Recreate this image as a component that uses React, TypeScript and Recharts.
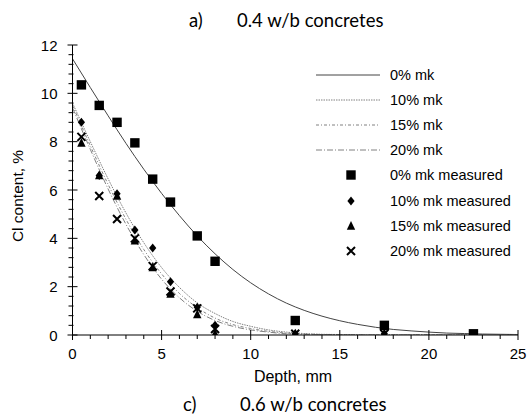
import React from 'react';
import { ComposedChart, Line, Scatter, XAxis, YAxis } from 'recharts';

// fitted profiles (depth mm -> Cl %)
const curveDepth = [0, 1, 2, 3, 4, 5, 6, 7, 8, 9, 10, 11, 12, 13, 14, 15, 16, 17, 18, 19, 20, 21, 22, 23, 24, 25];
const fit0 = [11.43, 10.24, 9.07, 7.93, 6.86, 5.86, 4.94, 4.1, 3.36, 2.71, 2.16, 1.7, 1.32, 1.02, 0.78, 0.59, 0.44, 0.32, 0.23, 0.17, 0.12, 0.08, 0.06, 0.04, 0.03, 0.02];
const fit10 = [9.6, 8.0, 6.46, 5.05, 3.82, 2.79, 1.97, 1.33, 0.89, 0.56, 0.36, 0.21, 0.12, 0.06, 0.03, 0.02, 0.01, 0, 0, 0, 0, 0, 0, 0, 0, 0];
const fit15 = [9.5, 7.83, 6.23, 4.79, 3.54, 2.53, 1.72, 1.13, 0.7, 0.43, 0.27, 0.15, 0.08, 0.04, 0.02, 0.01, 0, 0, 0, 0, 0, 0, 0, 0, 0, 0];
const fit20 = [9.4, 7.68, 6.04, 4.58, 3.33, 2.31, 1.54, 0.98, 0.6, 0.36, 0.21, 0.12, 0.05, 0.03, 0.01, 0.01, 0, 0, 0, 0, 0, 0, 0, 0, 0, 0];

// measured points
const measDepth = [0.5, 1.5, 2.5, 3.5, 4.5, 5.5, 7, 8, 12.5, 17.5, 22.5];
const meas0 = [10.35, 9.5, 8.8, 7.95, 6.45, 5.5, 4.1, 3.05, 0.6, 0.4, 0.05];
const meas10 = [8.8, 6.6, 5.85, 4.35, 3.6, 2.2, 1.15, 0.4, 0.05, 0.05, 0.02];
const meas15 = [7.95, 6.6, 5.75, 3.9, 2.8, 1.7, 0.85, 0.05, 0.05, 0.05, 0];
const meas20 = [8.2, 5.75, 4.8, 4.0, 2.85, 1.8, 1.1, 0.25, 0.05, 0.05, 0];

const xMajor = [0, 5, 10, 15, 20, 25];
const yMajor = [0, 2, 4, 6, 8, 10, 12];
const xTicks = Array.from({ length: 26 }, (_, i) => i);
const yTicks = Array.from({ length: 31 }, (_, i) => Math.round(i * 4) / 10);

const toPts = (xs: number[], ys: number[]) => xs.map((x, i) => ({ x, y: ys[i] }));

const lines = [
  { name: '0% mk', data: toPts(curveDepth, fit0), stroke: '#444', dash: undefined as string | undefined },
  { name: '10% mk', data: toPts(curveDepth, fit10), stroke: '#808080', dash: '1.5 1' },
  { name: '15% mk', data: toPts(curveDepth, fit15), stroke: '#808080', dash: '3 2 1 2' },
  { name: '20% mk', data: toPts(curveDepth, fit20), stroke: '#808080', dash: '6 2 1 2' },
];

const Square = ({ cx, cy }: any) => <rect x={cx - 4.7} y={cy - 4.7} width={9.4} height={9.4} fill="#000" />;
const Diamond = ({ cx, cy }: any) => <polygon points={`${cx},${cy - 4.5} ${cx + 3.6},${cy} ${cx},${cy + 4.5} ${cx - 3.6},${cy}`} fill="#000" />;
const Tri = ({ cx, cy }: any) => <polygon points={`${cx},${cy - 5} ${cx + 4.2},${cy + 3.8} ${cx - 4.2},${cy + 3.8}`} fill="#000" />;
const Cross = ({ cx, cy }: any) => (
  <path d={`M${cx - 4},${cy - 4}L${cx + 4},${cy + 4}M${cx + 4},${cy - 4}L${cx - 4},${cy + 4}`} stroke="#000" strokeWidth={2} />
);

const points = [
  { name: '0% mk measured', data: toPts(measDepth, meas0), shape: Square },
  { name: '10% mk measured', data: toPts(measDepth, meas10), shape: Diamond },
  { name: '15% mk measured', data: toPts(measDepth, meas15), shape: Tri },
  { name: '20% mk measured', data: toPts(measDepth, meas20), shape: Cross },
];

const font = 'Arial, "Liberation Sans", sans-serif';

const XTick = ({ x, y, payload }: any) => {
  const major = xMajor.includes(payload.value);
  const ay = y - 6;
  return (
    <g>
      <line x1={x} x2={x} y1={major ? ay - 5 : ay} y2={major ? ay + 5 : ay + 4} stroke="#000" />
      {major && (
        <text x={x} y={ay + 24} textAnchor="middle" fontSize={15} fontFamily={font} fill="#000">
          {payload.value}
        </text>
      )}
    </g>
  );
};

const YTick = ({ x, y, payload }: any) => {
  const major = yMajor.includes(payload.value);
  const ax = x + 6;
  return (
    <g>
      <line x1={major ? ax - 5 : ax - 4} x2={major ? ax + 5 : ax + 1} y1={y} y2={y} stroke="#000" />
      {major && (
        <text x={ax - 15} y={y + 5.5} textAnchor="end" fontSize={15} fontFamily={font} fill="#000">
          {payload.value}
        </text>
      )}
    </g>
  );
};

const LegendBox = () => (
  <div style={{ position: 'absolute', left: 316, top: 62, fontFamily: font, fontSize: 14.5, color: '#000' }}>
    {lines.map((l) => (
      <div key={l.name} style={{ display: 'flex', alignItems: 'center', height: 25.2 }}>
        <svg width={74} height={10}>
          <line x1={0} x2={64} y1={5} y2={5} stroke={l.stroke} strokeDasharray={l.dash} />
        </svg>
        <span>{l.name}</span>
      </div>
    ))}
    {points.map((p) => {
      const S = p.shape;
      return (
        <div key={p.name} style={{ display: 'flex', alignItems: 'center', height: 25.2 }}>
          <svg width={74} height={12}>
            <S cx={35} cy={6} />
          </svg>
          <span>{p.name}</span>
        </div>
      );
    })}
  </div>
);

export default function App() {
  return (
    <div style={{ position: 'absolute', left: 0, top: 0, width: 530, height: 417, background: '#fff', overflow: 'hidden' }}>
      <ComposedChart width={530} height={417} margin={{ top: 45, right: 12, bottom: 52, left: 13 }}>
        <XAxis
          type="number"
          dataKey="x"
          domain={[0, 25]}
          ticks={xTicks}
          interval={0}
          tickLine={false}
          tickSize={6}
          tickMargin={0}
          tick={<XTick />}
          height={30}
          stroke="#000"
          allowDataOverflow
        />
        <YAxis
          type="number"
          dataKey="y"
          domain={[0, 12]}
          ticks={yTicks}
          interval={0}
          tickLine={false}
          tickSize={6}
          tickMargin={0}
          tick={<YTick />}
          width={59.5}
          stroke="#000"
          allowDataOverflow
        />
        {lines.map((l) => (
          <Line
            key={l.name}
            data={l.data}
            dataKey="y"
            name={l.name}
            type="monotone"
            stroke={l.stroke}
            strokeWidth={1}
            strokeDasharray={l.dash}
            dot={false}
            activeDot={false}
            isAnimationActive={false}
          />
        ))}
        {points.map((p) => (
          <Scatter key={p.name} data={p.data} dataKey="y" name={p.name} shape={p.shape} isAnimationActive={false} />
        ))}
      </ComposedChart>
      <LegendBox />
      <div style={{ position: 'absolute', left: 0, top: 0, width: 530, fontFamily: 'Lato, sans-serif', fontSize: 18.5, lineHeight: '22px' }}>
        <span style={{ position: 'absolute', left: 189, top: 9 }}>a)</span>
        <span style={{ position: 'absolute', left: 237, top: 9 }}>0.4 w/b concretes</span>
      </div>
      <div
        style={{
          position: 'absolute', left: 18, top: 196, fontFamily: font, fontSize: 15.5,
          transform: 'translate(-50%, -50%) rotate(-90deg)', whiteSpace: 'nowrap',
        }}
      >
        Cl content, %
      </div>
      <div style={{ position: 'absolute', left: 293, top: 368, fontFamily: font, fontSize: 16, transform: 'translateX(-50%)' }}>
        Depth, mm
      </div>
      <div style={{ position: 'absolute', left: 0, top: 0, width: 530, fontFamily: 'Lato, sans-serif', fontSize: 18.5, lineHeight: '22px' }}>
        <span style={{ position: 'absolute', left: 183, top: 393 }}>c)</span>
        <span style={{ position: 'absolute', left: 240, top: 393 }}>0.6 w/b concretes</span>
      </div>
    </div>
  );
}
